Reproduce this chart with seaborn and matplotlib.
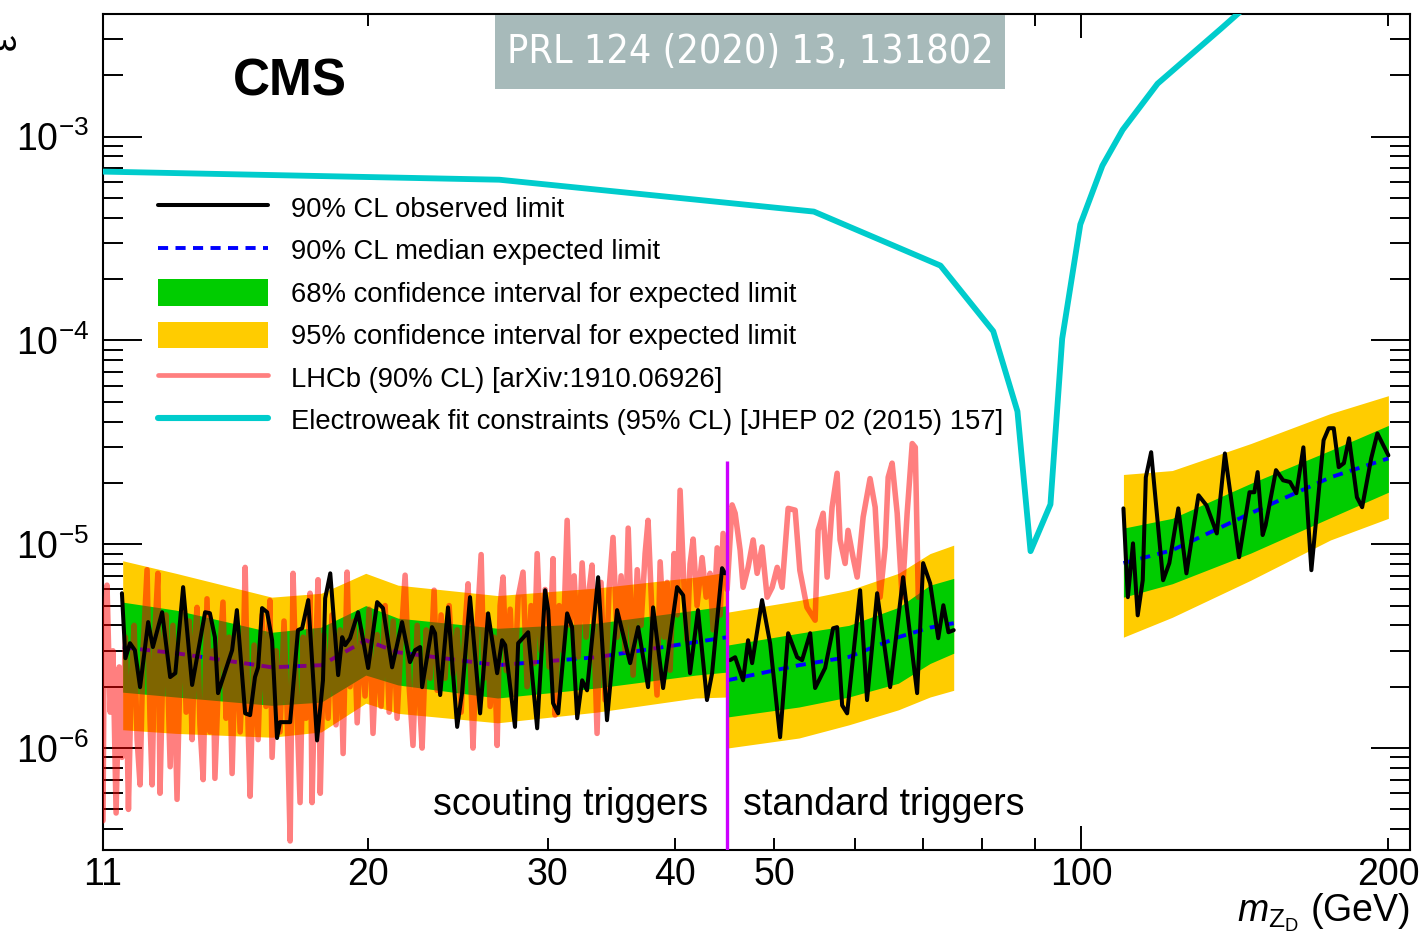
import numpy as np
import pandas as pd
import matplotlib
matplotlib.use("Agg")
import matplotlib.pyplot as plt
from matplotlib import font_manager
from matplotlib.font_manager import FontProperties
from matplotlib.lines import Line2D
from matplotlib.patches import Patch, Rectangle
from matplotlib.ticker import NullFormatter
import seaborn as sns

U = 1e-6  # epsilon values below are in units of 1e-6

# ---------------- expected limits: scouting triggers (11.5-45 GeV)
scout_band_mass = [11.5, 12.97, 16.1, 18.0, 19.9, 21.4, 26.8, 33.5, 41.9, 45.0]
scout_median = [3.12, 2.92, 2.49, 2.55, 3.38, 2.95, 2.55, 2.79, 3.31, 3.5]
scout_g_lo = [1.88, 1.78, 1.62, 1.68, 2.28, 2.04, 1.76, 1.97, 2.28, 2.36]
scout_g_hi = [5.2, 4.75, 3.70, 3.92, 5.0, 4.34, 3.87, 4.1, 4.75, 5.0]
scout_y_lo = [1.23, 1.18, 1.13, 1.2, 1.66, 1.48, 1.33, 1.50, 1.76, 1.78]
scout_y_hi = [8.3, 7.2, 5.5, 5.75, 7.2, 6.3, 5.6, 6.1, 6.9, 7.3]

# ---------------- expected limits: standard triggers (45-75 GeV)
low_band_mass = [45.0, 52.9, 59.2, 66.2, 71.1, 75.0]
low_median = [2.15, 2.55, 2.8, 3.5, 3.9, 4.1]
low_g_lo = [1.42, 1.59, 1.78, 2.08, 2.6, 2.92]
low_g_hi = [3.2, 3.66, 4.0, 4.9, 6.3, 6.8]
low_y_lo = [1.0, 1.12, 1.30, 1.54, 1.78, 1.92]
low_y_hi = [4.64, 5.3, 5.95, 7.2, 9.0, 9.9]

# ---------------- expected limits: standard triggers (110-200 GeV)
high_band_mass = [110.0, 122.8, 146.6, 175.5, 200.0]
high_median = [8.08, 9.35, 14.2, 21.3, 26.4]
high_g_lo = [5.5, 6.4, 9.05, 13.5, 18.0]
high_g_hi = [12.0, 13.4, 19.9, 28.9, 38.3]
high_y_lo = [3.5, 4.38, 6.66, 10.5, 13.4]
high_y_hi = [22.0, 23.0, 31.2, 43.8, 53.6]

# ---------------- observed limits
scout_obs_mass = [11.48, 11.57, 11.69, 11.82, 11.96, 12.18, 12.31, 12.57, 12.80, 12.95,
                  13.18, 13.45, 13.85, 14.00, 14.16, 14.26, 14.72, 14.88, 15.16, 15.33,
                  15.50, 15.61, 15.75, 15.93, 16.11, 16.29, 16.40, 16.78, 17.08, 17.24,
                  17.48, 17.83, 18.07, 18.16, 18.37, 18.70, 18.87, 19.00, 19.21, 19.56,
                  20.01, 20.42, 20.69, 21.12, 21.60, 21.99, 22.24, 22.50, 22.60, 23.11,
                  23.27, 23.54, 23.96, 24.46, 24.73, 25.18, 25.76, 26.23, 26.77, 27.07,
                  27.26, 27.87, 28.07, 28.71, 29.30, 29.83, 30.04, 30.37, 30.72, 31.35,
                  31.70, 32.07, 32.43, 32.79, 33.62, 34.30, 35.09, 36.14, 36.80, 37.63,
                  38.06, 38.93, 40.18, 40.73, 41.37, 42.12, 42.98, 43.48, 44.47, 44.77]
scout_obs = [5.75, 2.76, 3.27, 3.02, 1.99, 4.15, 3.13, 4.64, 2.23, 2.33,
             6.16, 2.04, 4.64, 4.59, 3.5, 1.86, 3.02, 4.75, 1.48, 1.45,
             2.23, 2.49, 4.86, 4.64, 3.38, 1.12, 1.34, 1.34, 3.79, 3.87,
             5.32, 1.09, 2.15, 5.43, 7.2, 2.28, 3.5, 3.2, 3.46, 4.64,
             2.47, 5.2, 4.86, 2.49, 4.15, 2.64, 3.02, 3.13, 1.99, 3.92,
             3.66, 1.82, 4.9, 1.27, 1.86, 5.5, 1.48, 4.58, 2.33, 3.38,
             3.2, 1.27, 3.27, 3.7, 1.25, 5.95, 4.75, 1.66, 1.48, 4.58,
             3.92, 1.40, 2.15, 1.92, 6.89, 1.37, 4.75, 2.61, 3.92, 1.99,
             4.9, 1.97, 6.16, 5.62, 2.33, 4.75, 1.72, 2.33, 7.63, 7.2]

low_obs_mass = [45.28, 45.80, 46.63, 47.16, 47.59, 48.67, 49.56, 50.69, 51.62, 52.68,
                53.27, 54.25, 54.86, 56.11, 57.13, 57.65, 58.31, 58.97, 60.72, 61.68,
                63.10, 64.98, 66.91, 69.06, 70.00, 71.12, 72.43, 73.27, 74.12, 75.0]
low_obs = [2.70, 2.79, 2.15, 3.38, 2.61, 5.32, 3.27, 1.13, 3.66, 2.79,
           2.70, 3.66, 1.97, 2.47, 3.87, 3.92, 1.62, 1.48, 5.95, 1.72,
           5.75, 1.99, 6.89, 1.86, 8.08, 6.43, 3.46, 5.02, 3.7, 3.79]

high_obs_mass = [110.0, 111.1, 112.4, 113.6, 114.9, 115.7, 117.1, 120.3, 122.0, 124.5,
                 126.8, 130.3, 132.7, 135.8, 138.3, 142.8, 146.2, 147.8, 148.9, 150.6,
                 151.6, 155.2, 157.7, 160.2, 162.5, 165.1, 168.1, 172.8, 174.8, 176.8,
                 178.8, 180.9, 183.0, 186.3, 188.5, 192.4, 195.1, 200.0]
high_obs = [15.0, 5.5, 10.1, 4.48, 6.66, 21.3, 28.3, 6.66, 8.08, 15.0,
            7.2, 17.4, 15.5, 11.3, 27.9, 8.64, 18.0, 18.0, 22.6, 11.1,
            12.4, 23.1, 20.6, 20.2, 17.8, 29.9, 7.46, 32.4, 37.1, 37.1,
            23.9, 25.0, 33.1, 17.0, 15.2, 26.4, 35.0, 27.3]

# ---------------- LHCb 90% CL limit
lhcb_mass = [11.00, 11.03, 11.10, 11.18, 11.25, 11.33, 11.41, 11.48, 11.57, 11.65,
             11.72, 11.80, 11.88, 11.96, 12.04, 12.15, 12.23, 12.29, 12.37, 12.45,
             12.51, 12.60, 12.68, 12.80, 12.88, 13.00, 13.09, 13.18, 13.27, 13.36,
             13.45, 13.54, 13.60, 13.69, 13.79, 13.91, 14.00, 14.10, 14.16, 14.29,
             14.42, 14.52, 14.62, 14.72, 14.85, 14.99, 15.09, 15.16, 15.26, 15.33,
             15.47, 15.61, 15.75, 15.89, 16.03, 16.11, 16.26, 16.40, 16.55, 16.66,
             16.78, 16.89, 17.01, 17.16, 17.28, 17.39, 17.55, 17.63, 17.75, 17.87,
             17.96, 18.11, 18.28, 18.44, 18.61, 18.78, 18.91, 19.08, 19.21, 19.38,
             19.52, 19.69, 19.87, 20.05, 20.23, 20.42, 20.60, 20.79, 20.98, 21.17,
             21.36, 21.56, 21.75, 21.95, 22.14, 22.35, 22.50, 22.60, 22.81, 23.01,
             23.22, 23.38, 23.59, 23.80, 24.02, 24.24, 24.46, 24.68, 24.90, 25.07,
             25.24, 25.35, 25.59, 25.82, 25.99, 26.17, 26.35, 26.58, 26.77, 26.95,
             27.13, 27.32, 27.57, 27.81, 28.07, 28.38, 28.64, 28.90, 29.10, 29.30,
             29.56, 29.83, 30.10, 30.37, 30.51, 30.79, 31.06, 31.35, 31.56, 31.85,
             32.14, 32.43, 32.72, 32.95, 33.16, 33.39, 33.54, 33.84, 34.15, 34.46,
             34.77, 35.09, 35.41, 35.73, 35.98, 36.38, 36.72, 37.04, 37.38, 37.63,
             37.97, 38.40, 38.67, 39.02, 39.28, 39.55, 39.91, 40.18, 40.45, 40.82,
             41.10, 41.37, 41.66, 42.03, 42.51, 42.90, 43.28, 43.58, 43.98, 44.28,
             44.57, 44.98, 45.49, 45.80, 46.32, 46.63, 47.16, 47.70, 48.13, 48.67,
             49.23, 49.79, 50.36, 50.92, 51.62, 52.44, 53.00, 53.86, 54.86, 55.23,
             55.86, 56.37, 57.00, 57.65, 58.04, 58.70, 59.09, 59.77, 60.32, 61.14,
             62.10, 62.82, 63.52, 64.25, 64.69, 65.27, 66.02, 66.76, 67.52, 68.30,
             68.77, 69.24]
lhcb_eps = [0.44, 3.4, 6.3, 1.5, 3.0, 0.48, 2.5, 0.9, 3.5, 0.5,
            2.0, 4.0, 1.1, 0.66, 3.0, 7.5, 1.4, 0.66, 3.8, 7.2,
            0.6, 3.0, 4.5, 0.81, 4.0, 0.56, 2.5, 5.0, 1.5, 4.2,
            1.1, 3.5, 4.9, 1.3, 0.7, 5.4, 1.2, 3.0, 0.71, 2.5,
            5.2, 1.4, 3.5, 0.75, 4.0, 1.2, 2.6, 7.7, 1.3, 0.58,
            3.2, 1.1, 4.5, 1.6, 5.3, 0.9, 3.0, 1.2, 4.2, 1.6,
            0.35, 7.2, 2.0, 0.54, 3.5, 1.4, 5.75, 0.54, 2.4, 6.7,
            0.6, 3.6, 1.4, 4.5, 1.3, 3.8, 0.94, 7.3, 2.0, 4.2,
            1.33, 3.8, 1.8, 4.8, 1.18, 3.6, 1.6, 5.0, 1.5, 4.2,
            1.4, 3.5, 7.05, 2.0, 1.03, 4.0, 1.5, 1.0, 3.8, 2.2,
            5.95, 1.92, 4.5, 2.2, 5.0, 2.3, 3.8, 1.5, 4.0, 6.4,
            2.0, 1.0, 4.0, 8.9, 2.2, 4.5, 1.6, 3.5, 1.03, 5.0,
            6.9, 2.4, 4.8, 1.8, 5.5, 7.3, 2.0, 5.0, 2.6, 9.0,
            3.0, 6.0, 2.5, 8.5, 1.45, 5.0, 3.0, 13.1, 4.0, 7.0,
            2.8, 8.1, 3.5, 6.0, 7.9, 2.5, 1.18, 6.5, 1.72, 6.0,
            10.8, 3.5, 7.0, 3.0, 12.0, 2.28, 7.5, 4.0, 9.0, 13.1,
            4.5, 1.82, 8.2, 3.5, 6.5, 2.41, 9.0, 4.5, 18.4, 6.0,
            3.38, 8.0, 10.6, 5.0, 8.6, 5.5, 7.2, 3.8, 9.6, 4.5,
            11.3, 6.0, 15.6, 14.2, 9.35, 6.15, 7.7, 10.5, 7.2, 9.7,
            5.5, 6.15, 7.7, 6.15, 15.0, 14.7, 7.45, 4.9, 4.24, 11.7,
            14.2, 6.9, 15.2, 22.3, 10.5, 8.05, 11.7, 8.6, 6.9, 13.6,
            21.0, 15.2, 5.5, 9.7, 21.3, 25.0, 14.2, 5.5, 14.2, 31.2,
            29.9, 5.5]

# ---------------- electroweak fit constraint (absolute epsilon)
ew_mass = [11.0, 26.9, 54.7, 72.8, 82.0, 86.6, 89.2, 93.3, 95.8, 99.8,
           104.9, 109.8, 118.8, 137.0, 148.0]
ew_eps = [6.74e-4, 6.15e-4, 4.29e-4, 2.33e-4, 1.11e-4, 4.49e-5, 9.25e-6, 1.57e-5, 1.02e-4, 3.71e-4,
          7.21e-4, 1.08e-3, 1.82e-3, 3.38e-3, 4.76e-3]

# trigger boundary
boundary_mass = 45.0
boundary_top = 2.55e-5

legend_labels = ["90% CL observed limit",
                 "90% CL median expected limit",
                 "68% confidence interval for expected limit",
                 "95% confidence interval for expected limit",
                 "LHCb (90% CL) [arXiv:1910.06926]",
                 "Electroweak fit constraints (95% CL) [JHEP 02 (2015) 157]"]
x_tick_major = [100]
x_tick_minor = [11, 20, 30, 40, 50, 60, 70, 80, 90, 200]
x_tick_minor_labels = ["11", "20", "30", "40", "50", "", "", "", "", "200"]
y_tick_major = [1e-6, 1e-5, 1e-4, 1e-3]
y_tick_major_labels = [r"$10^{-6}$", r"$10^{-5}$", r"$10^{-4}$", r"$10^{-3}$"]

# ---------------- style
sns.set_theme(style="white")
plt.rcParams["font.family"] = ["Liberation Sans", "DejaVu Sans"]
plt.rcParams["mathtext.fontset"] = "custom"
plt.rcParams["mathtext.rm"] = "Liberation Sans"
plt.rcParams["mathtext.it"] = "Liberation Sans:italic"
plt.rcParams["mathtext.bf"] = "Liberation Sans:bold"
for key in ("text.color", "axes.labelcolor", "xtick.color", "ytick.color", "axes.edgecolor"):
    plt.rcParams[key] = "black"

YELLOW = "#ffcc00"
GREEN = "#00cc00"
CYAN = "#00cccc"
MEDIAN_DASH = (0, (2.6, 1.9))

# a narrow face for the reference badge, if one is installed
badge_font = FontProperties(family="Roboto")
for f in font_manager.fontManager.ttflist:
    name = f.name.lower()
    if ("condensed" in name or f.stretch in ("condensed", "semi-condensed")) and f.weight in (400, "normal", "regular") \
            and f.style == "normal" and "mono" not in name and "serif" not in name:
        badge_font = FontProperties(fname=f.fname)
        break

fig = plt.figure(figsize=(14.22, 9.44), dpi=100)
W, H = 1422.0, 944.0
ax = fig.add_axes([103 / W, 1 - 850 / H, (1410 - 103) / W, (850 - 14) / H])
ax.set_xscale("log")
ax.set_yscale("log")

bands = [
    (scout_band_mass, scout_median, scout_g_lo, scout_g_hi, scout_y_lo, scout_y_hi),
    (low_band_mass, low_median, low_g_lo, low_g_hi, low_y_lo, low_y_hi),
    (high_band_mass, high_median, high_g_lo, high_g_hi, high_y_lo, high_y_hi),
]
for m, med, glo, ghi, ylo, yhi in bands:
    m = np.asarray(m)
    ax.fill_between(m, np.asarray(ylo) * U, np.asarray(yhi) * U, color=YELLOW, lw=0, zorder=1)
    ax.fill_between(m, np.asarray(glo) * U, np.asarray(ghi) * U, color=GREEN, lw=0, zorder=2)
    df = pd.DataFrame({"mass": m, "eps": np.asarray(med) * U})
    sns.lineplot(data=df, x="mass", y="eps", ax=ax, color="blue", lw=2.8,
                 linestyle=MEDIAN_DASH, estimator=None, sort=False, legend=False, zorder=3)

# the LHCb curve is one translucent stroke, so its dense zig-zag tints the bands once
lhcb_df = pd.DataFrame({"mass": lhcb_mass, "eps": np.asarray(lhcb_eps) * U})
sns.lineplot(data=lhcb_df, x="mass", y="eps", ax=ax, color="red", alpha=0.5, lw=4.0,
             estimator=None, sort=False, legend=False, zorder=4)

for m, obs in [(scout_obs_mass, scout_obs), (low_obs_mass, low_obs), (high_obs_mass, high_obs)]:
    df = pd.DataFrame({"mass": m, "eps": np.asarray(obs) * U})
    sns.lineplot(data=df, x="mass", y="eps", ax=ax, color="black", lw=2.9,
                 estimator=None, sort=False, legend=False, zorder=5)

ew_df = pd.DataFrame({"mass": ew_mass, "eps": ew_eps})
sns.lineplot(data=ew_df, x="mass", y="eps", ax=ax, color=CYAN, lw=4.2,
             estimator=None, sort=False, legend=False, zorder=5)

ax.vlines(boundary_mass, 1e-8, boundary_top, color="#cc00ff", lw=2.4, zorder=6)

# ---------------- axes
ax.set_xlabel("")
ax.set_ylabel("")
for s in ax.spines.values():
    s.set_linewidth(1.5)
    s.set_color("black")

ax.set_xticks(x_tick_major, labels=["100"])
ax.set_xticks(x_tick_minor, labels=x_tick_minor_labels, minor=True)
ax.set_yticks(y_tick_major, labels=y_tick_major_labels)
y_minor = [k * 10.0 ** e for e in range(-7, -2) for k in range(2, 10)]
ax.set_yticks(y_minor, minor=True)
ax.yaxis.set_minor_formatter(NullFormatter())
ax.set_ylim(3.16e-7, 4.0e-3)
ax.set_xlim(11, 210)

ax.tick_params(which="both", direction="in", top=True, right=True, left=True, bottom=True,
               width=1.4, color="black", labelsize=27, labelcolor="black")
ax.tick_params(axis="x", which="major", length=17, pad=5)
ax.tick_params(axis="x", which="minor", length=8.6, pad=5)
ax.tick_params(axis="y", which="major", length=28, pad=10)
ax.tick_params(axis="y", which="minor", length=14.4, pad=10)

# ---------------- legend
handles = [
    Line2D([], [], color="black", lw=2.9),
    Line2D([], [], color="blue", lw=2.8, linestyle=MEDIAN_DASH),
    Patch(facecolor=GREEN, edgecolor="none"),
    Patch(facecolor=YELLOW, edgecolor="none"),
    Line2D([], [], color="red", alpha=0.5, lw=3.4),
    Line2D([], [], color=CYAN, lw=4.4),
]
LEG_FS = 19.7
leg_px = LEG_FS * 100 / 72
ax.legend(handles, legend_labels, loc="upper left",
          bbox_to_anchor=((158 - 103) / 1307, (850 - 194) / 836),
          frameon=False, fontsize=LEG_FS, handlelength=110 / leg_px, handleheight=31 / leg_px,
          handletextpad=23 / leg_px, labelspacing=13.8 / leg_px, borderpad=0, borderaxespad=0)

# ---------------- annotations
fig.text(290 / W, 1 - 82 / H, "CMS", ha="center", va="center", fontsize=37, fontweight="bold")
fig.text(708 / W, 1 - 805 / H, "scouting triggers", ha="right", va="center", fontsize=27)
fig.text(743 / W, 1 - 805 / H, "standard triggers", ha="left", va="center", fontsize=27)
fig.text(1410 / W, 1 - 913 / H, r"$m_{\mathrm{Z}_{\mathrm{D}}}$ (GeV)", ha="right",
         va="center", fontsize=27)
fig.text(6 / W, 1 - 42 / H, "ε", rotation=90, ha="center", va="center", fontsize=27)

fig.patches.append(Rectangle((495 / W, 1 - 89 / H), 510 / W, 74 / H,
                             transform=fig.transFigure, facecolor="#a7baba",
                             edgecolor="none", zorder=2))
badge = fig.text(750 / W, 1 - 52 / H, "PRL 124 (2020) 13, 131802", ha="center", va="center",
                 fontproperties=badge_font, color="white", zorder=3)
badge.set_fontsize(30)
# keep the badge text inside its box
renderer = fig.canvas.get_renderer()
bw = badge.get_window_extent(renderer).width
if bw > 486:
    badge.set_fontsize(30 * 486 / bw)

fig.savefig("out.png", dpi=100)
